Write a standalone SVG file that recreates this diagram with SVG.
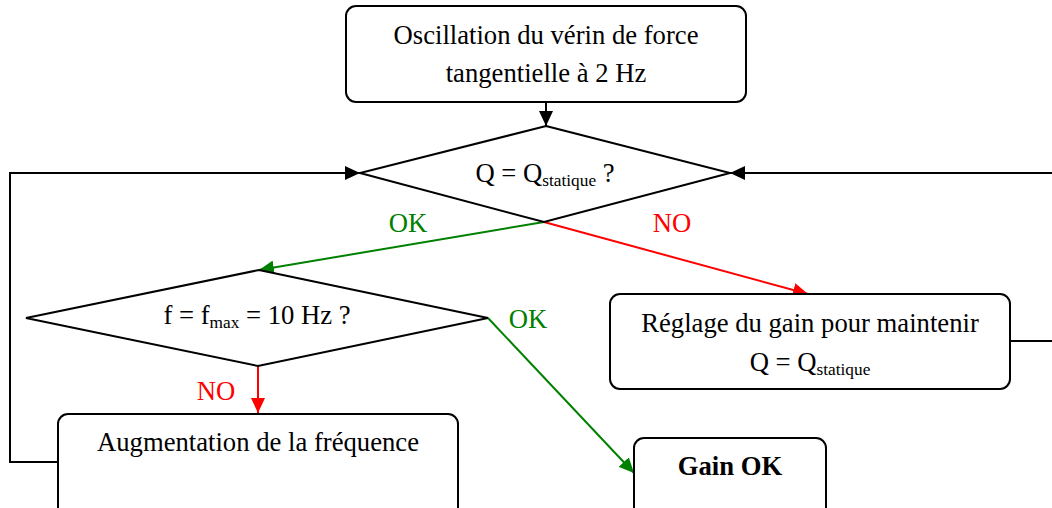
<svg xmlns="http://www.w3.org/2000/svg" width="1052" height="508" viewBox="0 0 1052 508">
<style>
.box{fill:#fff;stroke:#000;stroke-width:2}
.c{fill:none;stroke-width:2}
.k{stroke:#000}.g{stroke:#008000}.r{stroke:#ff0000}
text{font-family:"Liberation Serif","Times New Roman",serif;font-size:26.67px;text-anchor:middle;fill:#000}
.sub{font-size:17.3px}
.lg{fill:#008000}.lr{fill:#ff0000}
</style>
<defs>
<marker id="ak" markerWidth="15" markerHeight="14" refX="15" refY="7" orient="auto" markerUnits="userSpaceOnUse"><path d="M0,0 L15,7 L0,14 Z" fill="#000"/></marker>
<marker id="ag" markerWidth="15" markerHeight="14" refX="15" refY="7" orient="auto" markerUnits="userSpaceOnUse"><path d="M0,0 L15,7 L0,14 Z" fill="#008000"/></marker>
<marker id="ar" markerWidth="15" markerHeight="14" refX="15" refY="7" orient="auto" markerUnits="userSpaceOnUse"><path d="M0,0 L15,7 L0,14 Z" fill="#ff0000"/></marker>
</defs>
<rect width="1052" height="508" fill="#fff"/>
<g id="connectors">
<path class="c k" d="M546,102 L546,126" marker-end="url(#ak)"/>
<path class="c k" d="M58,462 L10,462 L10,173 L360,173" marker-end="url(#ak)"/>
<path class="c k" d="M1010,341 L1062,341 L1062,173 L730,173" marker-end="url(#ak)"/>
<path class="c g" d="M544,222 L259,270" marker-end="url(#ag)"/>
<path class="c r" d="M544,222 L808,294" marker-end="url(#ar)"/>
<path class="c r" d="M258,366 L258,413" marker-end="url(#ar)"/>
<path class="c g" d="M488,318 L634,473" marker-end="url(#ag)"/>
<text class="lg" x="408" y="232">OK</text>
<text class="lr" x="672" y="232">NO</text>
<text class="lg" x="528" y="328">OK</text>
<text class="lr" x="216" y="400">NO</text>
</g>
<g id="start">
<rect class="box" x="346" y="6" width="400" height="96" rx="10"/>
<text x="546" y="44">Oscillation du vérin de force</text>
<text x="546" y="82">tangentielle à 2 Hz</text>
</g>
<g id="decision-q">
<polygon class="box" points="546,126 730,173 544,222 360,173"/>
<text x="545" y="182">Q = Q<tspan class="sub" dy="4">statique</tspan><tspan dy="-4"> ?</tspan></text>
</g>
<g id="decision-f">
<polygon class="box" points="259,270 488,318 258,366 26,318"/>
<text x="257" y="324">f = f<tspan class="sub" dy="4">max</tspan><tspan dy="-4"> = 10 Hz ?</tspan></text>
</g>
<g id="reglage">
<rect class="box" x="610" y="294" width="400" height="95" rx="10"/>
<text x="810" y="332">Réglage du gain pour maintenir</text>
<text x="810" y="371">Q = Q<tspan class="sub" dy="4">statique</tspan></text>
</g>
<g id="augmentation">
<rect class="box" x="58" y="414" width="400" height="110" rx="10"/>
<text x="258" y="451">Augmentation de la fréquence</text>
</g>
<g id="gain-ok">
<rect class="box" x="634" y="438" width="192" height="90" rx="10"/>
<text x="730" y="475" font-weight="bold">Gain OK</text>
</g>
</svg>
